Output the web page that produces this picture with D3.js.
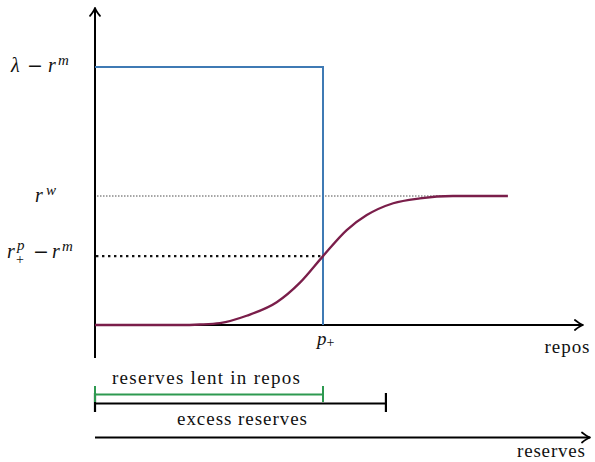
<!DOCTYPE html>
<html>
<head>
<meta charset="utf-8">
<script src="https://cdn.jsdelivr.net/npm/d3@7"></script>
<style>
  html, body { margin: 0; padding: 0; background: #fff; }
  svg { display: block; }
  text { font-family: "Liberation Serif", "Times New Roman", serif; fill: #111; }
</style>
</head>
<body>
<svg id="chart" width="595" height="462"></svg>
<script>
// Rate levels (normalised so that lambda - r^m = 1)
const lambdaLevel = 1;
const rwLevel = 0.5;
const rpLevel = 0.267;

// Repo quantities (normalised so that p+ = 1)
const pPlus = 1;
const excessReserves = 1.276;

// Repo rate curve: quantity of repos vs. spread
const curveX = [0, 0.373, 0.46, 0.548, 0.665, 0.797, 0.899, 1.0, 1.104, 1.192, 1.308, 1.425, 1.570, 1.811];
const curveY = [0, 0, 0.002, 0.0075, 0.036, 0.088, 0.164, 0.267, 0.368, 0.426, 0.472, 0.491, 0.5, 0.5];

// Axis extents
const xAxisEnd = 2.14;
const reservesAxisEnd = 2.171;
const yAxisTop = 1.229;
const yAxisBottom = -0.128;

const svg = d3.select("#chart");
const x = d3.scaleLinear().domain([0, 1]).range([95, 323]);
const y = d3.scaleLinear().domain([0, 1]).range([325, 67]);

function arrowHead(g, px, py, dir) {
  // open chevron arrow head, dir: "right" or "up"
  const p = d3.path();
  if (dir === "right") {
    p.moveTo(px - 8, py - 5); p.quadraticCurveTo(px - 3, py - 1, px, py);
    p.moveTo(px - 8, py + 5); p.quadraticCurveTo(px - 3, py + 1, px, py);
  } else {
    p.moveTo(px - 5, py + 8); p.quadraticCurveTo(px - 1, py + 3, px, py);
    p.moveTo(px + 5, py + 8); p.quadraticCurveTo(px + 1, py + 3, px, py);
  }
  g.append("path").attr("d", p.toString()).attr("fill", "none")
    .attr("stroke", "#000").attr("stroke-width", 1.8).attr("stroke-linecap", "round");
}

// Math labels: each piece positioned on its own
function mathLabel(pieces) {
  const g = svg.append("g");
  pieces.forEach(p => {
    const t = g.append("text").attr("x", p.x).attr("y", p.y)
      .attr("font-size", p.size)
      .attr("font-style", p.italic ? "italic" : "normal")
      .text(p.t);
    if (p.family) t.style("font-family", p.family);
  });
  return g;
}

// Guide lines
svg.append("line")
  .attr("x1", x(0) + 2).attr("x2", x(1.570)).attr("y1", y(rwLevel)).attr("y2", y(rwLevel))
  .attr("stroke", "#222").attr("stroke-width", 0.8).attr("stroke-dasharray", "1.5,1.5");
svg.append("line")
  .attr("x1", x(0) + 1).attr("x2", x(pPlus)).attr("y1", y(rpLevel)).attr("y2", y(rpLevel))
  .attr("stroke", "#111").attr("stroke-width", 2.4).attr("stroke-dasharray", "2.4,3.6");

// Axes
const axes = svg.append("g");
axes.append("line").attr("x1", x(0)).attr("x2", x(0))
  .attr("y1", y(yAxisBottom)).attr("y2", y(yAxisTop))
  .attr("stroke", "#000").attr("stroke-width", 2);
arrowHead(axes, x(0), y(yAxisTop), "up");

// Supply step (blue)
svg.append("path")
  .attr("d", d3.line()([[x(0), y(lambdaLevel)], [x(pPlus), y(lambdaLevel)], [x(pPlus), y(0)]]))
  .attr("fill", "none").attr("stroke", "#3f7ab4").attr("stroke-width", 2);

axes.append("line").attr("x1", x(0)).attr("x2", x(xAxisEnd))
  .attr("y1", y(0)).attr("y2", y(0))
  .attr("stroke", "#000").attr("stroke-width", 2);
arrowHead(axes, x(xAxisEnd), y(0), "right");

// Repo curve (purple)
const curvePts = curveX.map((d, i) => [x(d), y(curveY[i])]);
svg.append("path")
  .attr("d", d3.line().curve(d3.curveMonotoneX)(curvePts))
  .attr("fill", "none").attr("stroke", "#7a1e4a").attr("stroke-width", 2.3);

// Axis labels
svg.append("text").attr("x", 567).attr("y", 353).attr("text-anchor", "middle")
  .attr("font-size", 19).attr("textLength", 45).text("repos");

// p+ under the step
const px = x(pPlus);
mathLabel([
  { t: "p", x: px - 6, y: 345, size: 19, italic: true },
  { t: "+", x: px + 3.5, y: 347, size: 14 }
]);

// Y labels
const minusFont = "'DejaVu Serif', serif";
const ly1 = y(lambdaLevel) + 5;
mathLabel([
  { t: "λ", x: 11, y: ly1, size: 20, italic: true },
  { t: "−", x: 27, y: ly1, size: 19, family: minusFont },
  { t: "r", x: 48, y: ly1, size: 20, italic: true },
  { t: "m", x: 58, y: ly1 - 7, size: 15, italic: true }
]);

const ly2 = y(rwLevel) + 6;
mathLabel([
  { t: "r", x: 35, y: ly2, size: 20, italic: true },
  { t: "w", x: 46, y: ly2 - 7, size: 15, italic: true }
]);

const ly3 = y(rpLevel) + 2;
mathLabel([
  { t: "r", x: 7, y: ly3, size: 20, italic: true },
  { t: "p", x: 17, y: ly3 - 8, size: 15, italic: true },
  { t: "+", x: 16, y: ly3 + 6, size: 14 },
  { t: "−", x: 33, y: ly3, size: 19, family: minusFont },
  { t: "r", x: 52, y: ly3, size: 20, italic: true },
  { t: "m", x: 62, y: ly3 - 7, size: 15, italic: true }
]);

// Brackets below the chart
function bracket(x0, x1, yy, t0, t1, color, w) {
  const g = svg.append("g").attr("stroke", color).attr("stroke-width", w).attr("fill", "none");
  g.append("line").attr("x1", x0).attr("x2", x1).attr("y1", yy).attr("y2", yy);
  g.append("line").attr("x1", x0).attr("x2", x0).attr("y1", t0).attr("y2", t1);
  g.append("line").attr("x1", x1).attr("x2", x1).attr("y1", t0).attr("y2", t1);
}
bracket(x(0), x(excessReserves), 403.5, 393, 412, "#000", 2.2);
bracket(x(0), x(pPlus), 394.5, 386, 402, "#2e9950", 2);

svg.append("text").attr("x", 206).attr("y", 384).attr("text-anchor", "middle")
  .attr("font-size", 19).attr("textLength", 188).text("reserves lent in repos");
svg.append("text").attr("x", 242).attr("y", 425).attr("text-anchor", "middle")
  .attr("font-size", 19).attr("textLength", 130).text("excess reserves");

// Reserves axis
svg.append("line").attr("x1", x(0)).attr("x2", x(reservesAxisEnd))
  .attr("y1", 437.5).attr("y2", 437.5).attr("stroke", "#000").attr("stroke-width", 2.2);
arrowHead(svg, x(reservesAxisEnd), 437.5, "right");
svg.append("text").attr("x", 551).attr("y", 457).attr("text-anchor", "middle")
  .attr("font-size", 19).attr("textLength", 68).text("reserves");
</script>
</body>
</html>
